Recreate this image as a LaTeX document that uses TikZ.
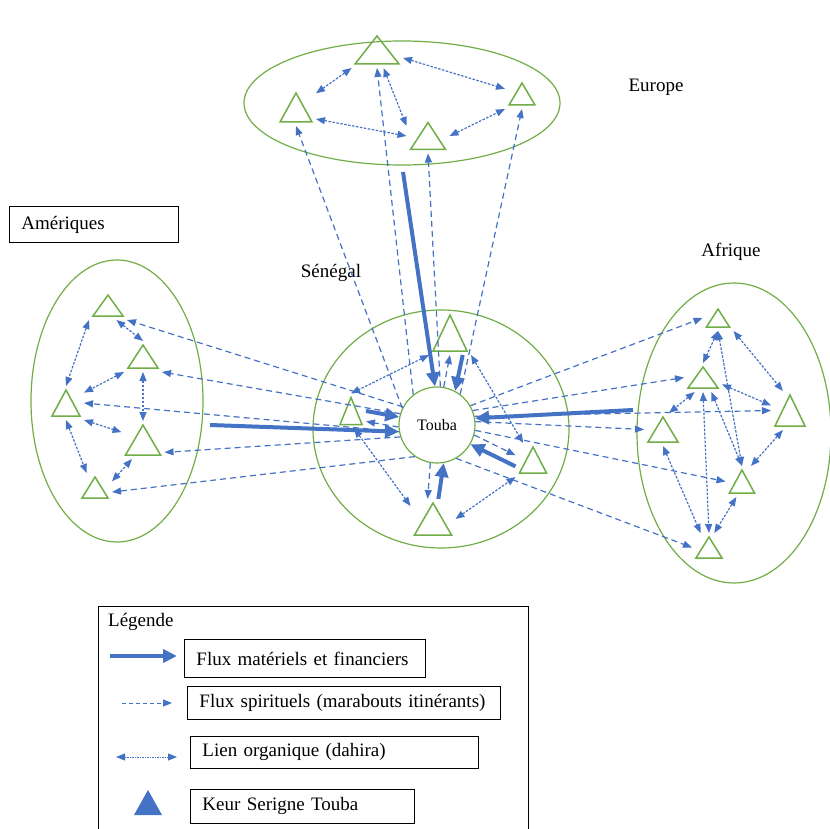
\documentclass[tikz,border=0pt]{standalone}
\usepackage{fontspec}
\setmainfont{Liberation Serif}
\usetikzlibrary{arrows.meta}
\definecolor{fluxblue}{HTML}{4472C4}
\definecolor{zonegreen}{HTML}{70AD47}
\begin{document}
\begin{tikzpicture}[x=1pt,y=-1pt,
  zone/.style={draw=zonegreen,line width=1.2pt},
  site/.style={inner sep=0pt,outer sep=4pt},
  matter/.style={-{Triangle[length=14pt,width=13pt]},draw=fluxblue,line width=4pt},
  spirit/.style={-{Triangle[length=9pt,width=7pt]},draw=fluxblue,line width=1.2pt,dash pattern=on 6pt off 4pt},
  organic/.style={{Triangle[length=9pt,width=7pt]}-{Triangle[length=9pt,width=7pt]},draw=fluxblue,line width=1.2pt,dash pattern=on 2.5pt off 1.5pt},
  place/.style={inner sep=0pt,font=\fontsize{19}{23}\selectfont},
  keybox/.style={draw,line width=0.9pt,anchor=north west,inner xsep=12pt,inner ysep=0pt,minimum width=#1,text width={#1-24},align=left,font=\fontsize{19}{23}\selectfont}]
\useasboundingbox (0,0) rectangle (830,829);
\draw[zone] (402,103) ellipse [x radius=158,y radius=62];
\draw[zone] (117,401) ellipse [x radius=86,y radius=141];
\draw[zone] (734,433) ellipse [x radius=97,y radius=150];
\draw[zone] (441,429) ellipse [x radius=128,y radius=119];
\node[circle,zone,minimum size=76,inner sep=0pt,font=\fontsize{16}{19}\selectfont] (touba) at (437,425) {Touba};
\foreach \n/\x/\y/\w/\h in {e1/377/50/44/28,e2/296/107.5/32/29,e3/522/94/26/22,e4/428/136/35/27,
  s1/450/333/34/36,s2/351/411/22/27,s3/533/460/27/26,s4/433/519/37/32,
  a1/108/305.5/30/21,a2/143/356.5/30/23,a3/66/403/28/26,a4/143/440/35/30,a5/95/487.5/26/21,
  f1/718/318/23/18,f2/703/377.5/30/21,f3/790/410.5/30/31,f4/663/429.5/30/25,f5/742/481.5/25/23,f6/709/547.5/26/21}{
  \node[site,minimum width=\w,minimum height=\h] (\n) at (\x,\y) {};
  \draw[zone,line width=1.5pt] ({\x-\w/2},{\y+\h/2})--(\x,{\y-\h/2})--({\x+\w/2},{\y+\h/2})--cycle;
}
\node[place] (europe) at (656,87) {Europe};
\node[place] (afrique) at (731,252) {Afrique};
\node[place] (senegal) at (331,273) {Sénégal};
\node[keybox=169,minimum height=36] (ameriques) at (9,206) {Amériques};
\coordinate (euout) at (403,172);
\coordinate (amout) at (210,425);
\coordinate (afout) at (633,410);
\draw[organic] (e1)--(e2);
\draw[organic] (e1)--(e3);
\draw[organic] (e1.-70)--(e4.155);
\draw[organic] (e2.-30)--(e4.west);
\draw[organic] (e4.east)--(e3.south west);
\draw[spirit] (touba.154)--(e2.south);
\draw[spirit] (touba.128)--(e1.south);
\draw[spirit] (touba.85)--(e4.south);
\draw[spirit] (touba.53)--(e3.south);
\draw[organic] (s1.south west)--(s2.north);
\draw[organic] (s1.south east)--(s3.120);
\draw[organic] (s2.-80)--(s4.150);
\draw[organic] (s4.east)--(s3.south west);
\draw[spirit] (touba.80)--(s1.south);
\draw[spirit] (touba.183)--(s2.-35);
\draw[spirit] (touba.-15)--(s3.165);
\draw[spirit] (touba.-100)--(s4.105);
\draw[organic] (a1.south west)--(a3.north);
\draw[organic] (a1.-60)--(a2.north);
\draw[organic] (a2.south west)--(a3.30);
\draw[organic] (a2.south)--(a4.north);
\draw[organic] (a3.south east)--(a4.160);
\draw[organic] (a3.south)--(a5.120);
\draw[organic] (a5.20)--(a4.-120);
\draw[spirit] (touba.152)--(a1.south east);
\draw[spirit] (touba.163)--(a2.south east);
\draw[spirit] (touba.190)--(a3.east);
\draw[spirit] (touba.198)--(a4.-30);
\draw[spirit] (touba.235)--(a5.-15);
\draw[organic] (f1.south)--(f2.north);
\draw[organic] (f1.south east)--(f3.110);
\draw[organic] (f1.south)--(f5.north);
\draw[organic] (f2.-20)--(f3.165);
\draw[organic] (f2.-120)--(f4.70);
\draw[organic] (f2.south)--(f6.north);
\draw[organic] (f2.-60)--(f5.north);
\draw[organic] (f3.-110)--(f5.60);
\draw[organic] (f4.south)--(f6.120);
\draw[organic] (f5.-110)--(f6.70);
\draw[spirit] (touba.30)--(f1.west);
\draw[spirit] (touba.22)--(f2.west);
\draw[spirit] (touba.13)--(f3.west);
\draw[spirit] (touba.5)--(f4.west);
\draw[spirit] (touba.-8)--(f5.west);
\draw[spirit] (touba.-60)--(f6.west);
\draw[matter] (euout)--(touba.93);
\draw[matter] (amout)--(touba.190);
\draw[matter] (afout)--(touba.10);
\draw[matter] (s1.-60)--(touba.62);
\draw[matter] (s2.east)--(touba.168);
\draw[matter] (s3.200)--(touba.-30);
\draw[matter] (s4.75)--(touba.-80);
\draw[line width=0.9pt] (98,835)--(98,606)--(528,606)--(528,835);
\node[place,anchor=west] (legende) at (108,622) {Légende};
\node[keybox=241,minimum height=38] (k1) at (184,639) {Flux matériels et financiers};
\node[keybox=313,minimum height=33] (k2) at (187,686) {Flux spirituels (marabouts itinérants)};
\node[keybox=288,minimum height=32] (k3) at (190,736) {Lien organique (dahira)};
\node[keybox=224,minimum height=34] (k4) at (190,789) {Keur Serigne Touba};
\coordinate (m1) at (110,656);
\coordinate (m2) at (177,656);
\coordinate (p1) at (122,703);
\coordinate (p2) at (172,703);
\coordinate (o1) at (116,757);
\coordinate (o2) at (177,757);
\draw[matter,line width=3.5pt] (m1)--(m2);
\draw[spirit,line width=1pt,dash pattern=on 4pt off 3pt] (p1)--(p2);
\draw[organic,line width=1pt,dash pattern=on 1.5pt off 1pt] (o1)--(o2);
\fill[fluxblue] (134,815)--(148,790)--(162,815)--cycle;
\end{tikzpicture}
\end{document}
